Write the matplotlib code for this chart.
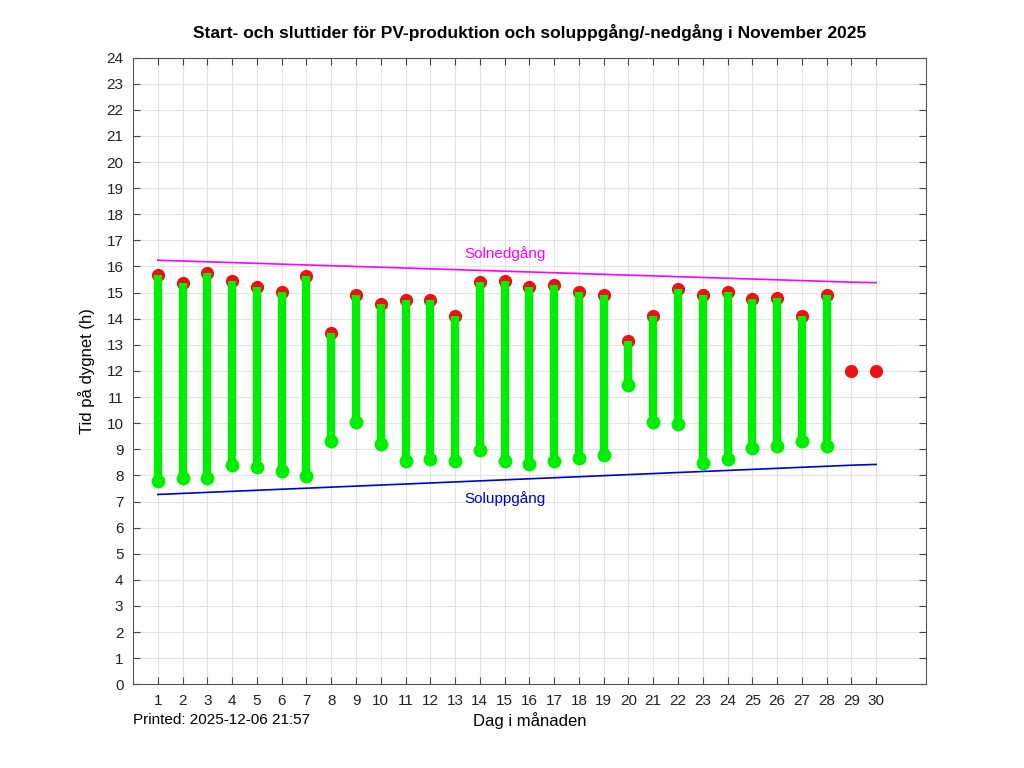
import numpy as np
import matplotlib
matplotlib.use("Agg")
import matplotlib.pyplot as plt

plt.rcParams['font.family'] = ['Liberation Sans', 'DejaVu Sans']

# data (decimal hours)
days = list(range(1, 31))
pv_start = [7.77, 7.89, 7.89, 8.38, 8.31, 8.15, 7.96, 9.30, 10.03, 9.22,
            8.54, 8.61, 8.54, 8.96, 8.57, 8.42, 8.57, 8.65, 8.80, 11.48,
            10.03, 9.95, 8.46, 8.61, 9.03, 9.11, 9.30, 9.11, None, None]
pv_end = [15.69, 15.35, 15.77, 15.43, 15.23, 15.04, 15.62, 13.47, 14.89, 14.55,
          14.70, 14.70, 14.12, 15.39, 15.46, 15.23, 15.31, 15.04, 14.89, 13.13,
          14.12, 15.12, 14.89, 15.04, 14.74, 14.81, 14.12, 14.89, 12.0, 12.0]
sunset = [16.24, 16.21, 16.18, 16.15, 16.12, 16.09, 16.06, 16.03, 16.00, 15.97,
          15.94, 15.91, 15.88, 15.85, 15.82, 15.79, 15.76, 15.73, 15.70, 15.67,
          15.64, 15.61, 15.58, 15.55, 15.52, 15.49, 15.46, 15.43, 15.40, 15.38]
sunrise = [7.27, 7.31, 7.35, 7.39, 7.43, 7.47, 7.51, 7.55, 7.59, 7.63,
           7.67, 7.71, 7.75, 7.79, 7.83, 7.87, 7.91, 7.95, 7.99, 8.03,
           8.07, 8.11, 8.15, 8.19, 8.23, 8.27, 8.31, 8.35, 8.39, 8.42]

fig = plt.figure(figsize=(10.24, 7.68), dpi=100)
ax = fig.add_axes([0.13, 0.109, 0.774, 0.816])

ax.plot(days, sunset, color='#ff00ff', lw=1.2, zorder=3)
ax.plot(days, sunrise, color='#0000cc', lw=1.2, zorder=3)

# red dots at end of production
ax.plot(days, pv_end, 'o', color='#ee1111', ms=8.5, zorder=4, linestyle='none')

for d, s, e in zip(days, pv_start, pv_end):
    if s is None:
        continue
    ax.plot([d, d], [s, e], color='#00ee00', lw=6, solid_capstyle='butt', zorder=5)
    ax.plot(d, s, 'o', color='#00ee00', ms=9, zorder=5)

ax.text(15, 16.5, 'Solnedgång', color='#ff00ff', fontsize=11, ha='center', va='center')
ax.text(15, 7.12, 'Soluppgång', color='#0000cc', fontsize=11, ha='center', va='center')

ax.set_xlim(0, 32)
ax.set_ylim(0, 24)
ax.set_xticks(days)
ax.set_yticks(range(0, 25))
ax.grid(True, color='#e4e4e4', lw=0.8)
ax.set_axisbelow(True)
ax.tick_params(direction='in', top=True, right=True, length=5, labelsize=11,
               color='#444444', labelcolor='#222222', pad=7)
for sp in ax.spines.values():
    sp.set_color('#555555')

ax.set_title('Start- och sluttider för PV-produktion och soluppgång/-nedgång i November 2025',
             fontsize=12.5, fontweight='bold', pad=14)
ax.set_xlabel('Dag i månaden', fontsize=12, labelpad=3)
ax.set_ylabel('Tid på dygnet (h)', fontsize=12, labelpad=8)
fig.text(0.13, 0.062, 'Printed: 2025-12-06 21:57', fontsize=11, ha='left', va='center')

fig.savefig('out.png', dpi=100)
